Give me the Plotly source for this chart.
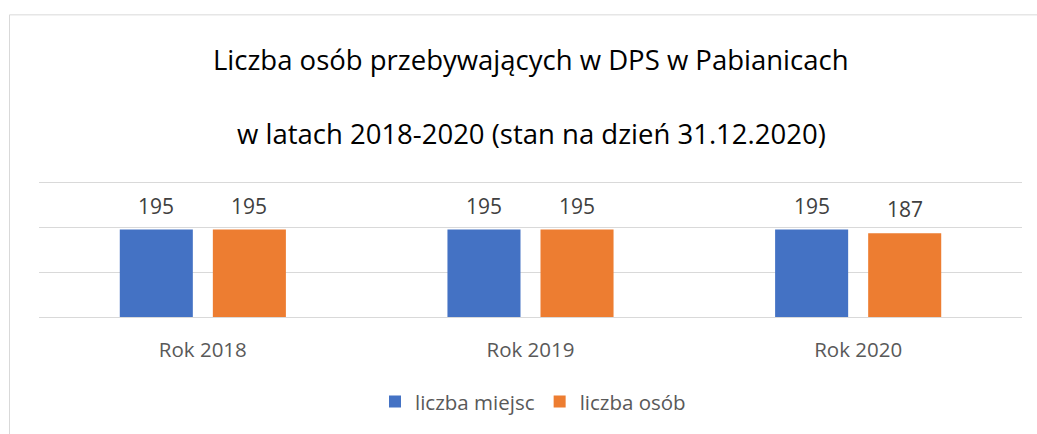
import plotly.graph_objects as go

categories = ["Rok 2018", "Rok 2019", "Rok 2020"]
liczba_miejsc = [195, 195, 195]
liczba_osob = [195, 195, 187]
series_names = ["liczba miejsc", "liczba osób"]
title_lines = ["Liczba osób przebywających w DPS w Pabianicach",
               "w latach 2018-2020 (stan na dzień 31.12.2020)"]

W, H = 1037, 434
ml, mr, mt, mb = 39, 15, 178, 115
pw, ph = W - ml - mr, H - mt - mb

def px_x(x):
    return (x - ml) / pw

def px_y(y):
    return (H - mb - y) / ph

FONT = "Open Sans"
BAR_SLOT_PX = 93  # pixel width of one bar slot in a group

fig = go.Figure()
fig.add_trace(go.Bar(
    x=categories, y=liczba_miejsc, name=series_names[0],
    marker=dict(color="#4472C4", line=dict(width=0)),
))
fig.add_trace(go.Bar(
    x=categories, y=liczba_osob, name=series_names[1],
    marker=dict(color="#ED7D31", line=dict(width=0)),
))

annotations = []
for series, sh in [(liczba_miejsc, -BAR_SLOT_PX / 2), (liczba_osob, BAR_SLOT_PX / 2)]:
    for c, v in zip(categories, series):
        annotations.append(dict(
            x=c, y=v, xref="x", yref="y", text=str(v), showarrow=False,
            xanchor="center", yanchor="middle", xshift=sh, yshift=24,
            font=dict(size=21, color="#404040", family=FONT),
        ))

for line, yy in zip(title_lines, [58, 133]):
    annotations.append(dict(
        text=line, xref="paper", yref="paper", x=px_x(531), y=px_y(yy),
        xanchor="center", yanchor="middle", showarrow=False,
        font=dict(size=27.5, color="#000000", family=FONT),
    ))

fig.update_layout(
    width=W, height=H,
    margin=dict(l=ml, r=mr, t=mt, b=mb),
    paper_bgcolor="white", plot_bgcolor="white",
    barmode="group", bargap=0.432, bargroupgap=0.215,
    showlegend=True,
    legend=dict(orientation="h", x=px_x(533), xanchor="center",
                y=px_y(405), yanchor="middle",
                font=dict(size=20.5, color="#595959", family=FONT),
                itemwidth=30, tracegroupgap=0),
    annotations=annotations,
    shapes=[dict(type="rect", xref="paper", yref="paper",
                 x0=px_x(9.5), x1=px_x(1045), y0=px_y(445), y1=px_y(12.5),
                 line=dict(color="#d9d9d9", width=1), fillcolor="rgba(0,0,0,0)",
                 layer="below")],
    xaxis=dict(showgrid=False, showline=False, ticks="outside", ticklen=14,
               tickcolor="rgba(0,0,0,0)",
               tickfont=dict(size=20.5, color="#595959", family=FONT)),
    yaxis=dict(range=[0, 310], tickvals=[0, 100, 200, 300], showticklabels=False,
               showgrid=True, gridcolor="#d9d9d9", gridwidth=1,
               zeroline=True, zerolinecolor="#d9d9d9", zerolinewidth=1,
               showline=False),
)

fig.write_html("out.html", config={"displayModeBar": False},
               post_script="document.body.style.margin='0';")
